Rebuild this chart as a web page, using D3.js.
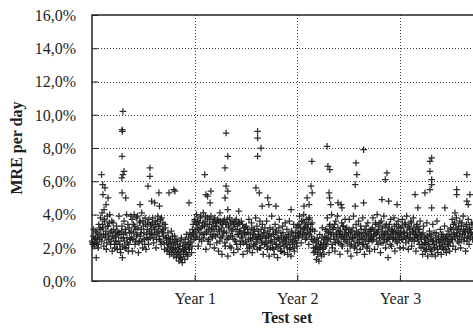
<!DOCTYPE html>
<html>
<head>
<meta charset="utf-8">
<script src="https://cdn.jsdelivr.net/npm/d3@7"></script>
<style>
  html, body { margin: 0; padding: 0; background: #fff; }
  svg { display: block; }
  svg text { font-family: "Liberation Serif", "Tinos", "Times New Roman", Times, "DejaVu Serif", serif !important; fill: #1e1e1e; }
</style>
</head>
<body>
<svg id="chart" width="473" height="331"></svg>
<script>
// ---------- data (MRE per day, %) ----------
const dayStep = 3;
// first sample set: days 0, 3, 6, ...
const bandYear1 = [
  2.4, 2.2, 3.1, 2.3, 2.6, 1.4, 2.9, 2.2, 3.4, 2.5,
  3.8, 2.7, 4.1, 3.2, 2.1, 3.6, 2.8, 1.9, 3.9, 3.3, 2.5, 4.0, 2.2, 3.0, 1.8, 3.5, 2.6, 2.0,
  2.4, 3.3, 1.9, 2.8, 3.9, 2.2, 1.7, 3.0, 1.4, 2.6, 3.6, 2.0, 2.9, 4.0, 2.3, 1.8, 3.2, 2.5,
  3.9, 2.6, 1.8, 3.4, 4.0, 2.2, 3.1, 2.7, 3.9, 1.7, 2.4, 3.6, 2.9, 4.1, 2.0, 3.3, 2.5, 3.8, 1.9, 2.8, 3.5, 2.2, 3.0, 2.6,
  3.4, 2.8, 3.8, 2.3, 3.1, 3.6, 2.0, 2.9, 3.9, 3.3, 2.5, 3.7, 2.2, 3.0, 3.5, 2.7, 1.9, 3.2,
  2.6, 1.8, 2.9, 2.2, 1.6, 2.5, 3.0, 1.9, 2.3, 1.5, 2.7, 2.0, 1.4, 2.4, 1.7, 1.2, 2.1, 1.4, 2.6, 1.1,
  1.8, 2.3, 1.3, 2.0, 2.8, 1.6, 2.2, 1.9, 2.9, 2.4, 1.7, 3.1,
  3.4, 2.5
];
const bandYear2 = [
  3.7, 2.6, 4.0, 3.2, 2.1, 3.5, 2.9, 3.9, 2.4, 3.3, 4.1, 2.8, 3.6, 1.9, 3.0, 3.8, 2.5, 3.4, 2.2, 3.9, 3.1, 2.7, 3.6, 2.0, 3.3,
  3.5, 2.3, 3.7, 1.8, 3.0, 3.6, 2.6, 1.6, 3.4, 2.9, 3.7, 2.1, 3.5, 2.5, 1.5, 3.3, 3.8, 2.7, 2.0, 3.6,
  3.1, 1.7, 3.4, 2.4, 3.7, 2.8, 1.9, 3.5, 3.0, 2.2, 3.6, 2.6, 1.6, 3.2, 2.9,
  2.4, 3.3, 1.8, 2.9, 3.7, 2.1, 2.6, 3.5, 1.7, 2.8, 3.1, 2.2, 3.8, 2.5, 1.9, 3.0, 2.7, 3.6, 2.0, 2.4, 3.4, 1.6, 2.9, 3.2,
  2.3, 3.6, 1.9, 2.7, 1.5, 3.2, 2.4, 3.9, 2.0, 2.8, 1.6, 3.4, 2.2, 3.0, 1.4, 2.6, 3.7, 2.1, 2.9, 1.8, 3.3, 2.5, 1.7, 3.5,
  2.2, 3.1, 1.6, 2.7, 3.6, 2.0, 1.5, 2.9, 2.4, 3.4, 1.8, 2.6, 3.2, 2.1
];
const bandYear3 = [
  3.3, 2.6, 3.9, 3.0, 2.3, 3.6, 2.8, 4.0, 3.2, 2.5, 3.7, 2.9, 3.4, 2.2, 3.8, 3.1, 2.7, 3.5,
  2.4, 1.7, 3.0, 2.0, 1.3, 2.6, 1.9, 1.2, 2.8, 2.2, 1.5, 3.2, 2.0, 1.6, 2.7,
  3.1, 2.2, 3.8, 2.6, 1.7, 3.4, 2.9, 4.0, 2.0, 3.2, 2.5, 1.8, 3.6, 2.8, 3.9, 2.3, 3.0, 1.6, 2.7, 3.5, 2.1, 3.3, 2.6, 3.7,
  2.4, 3.2, 1.8, 2.9, 3.7, 2.1, 1.5, 3.0, 2.6, 3.9, 2.0, 2.7, 3.4, 1.7, 2.3, 3.6, 2.8, 1.9, 3.1, 2.5,
  3.8, 2.2, 1.6, 2.9, 3.3, 2.0, 3.5, 2.4, 1.8, 3.0,
  3.1, 2.4, 3.8, 2.7, 1.9, 3.5, 2.9, 4.0, 2.2, 3.3, 2.6, 1.7, 3.6, 3.0, 2.3, 3.9, 2.8, 2.0, 3.4, 2.5,
  1.4, 3.2, 2.7, 3.7, 2.1, 3.0, 2.6, 3.8, 1.8, 2.9, 3.4, 2.3, 3.6, 2.8, 2.0
];
const bandYear4 = [
  3.2, 2.5, 3.7, 2.0, 2.9, 3.5, 2.3, 3.9, 2.7, 1.9, 3.3, 2.6, 3.6, 2.1, 3.0, 3.8, 2.4, 2.8, 1.8, 3.4, 2.6, 3.1, 2.2, 3.6,
  2.0, 2.8, 1.6, 3.3, 2.3, 1.8, 2.6, 3.5, 1.5, 2.2, 3.0, 1.9, 2.7, 1.6, 3.4, 2.4, 2.0, 1.5, 2.9, 3.6,
  1.7, 2.5, 2.1, 3.1, 1.6, 2.3, 2.8, 1.9, 3.3, 2.6, 1.7, 2.2, 3.0, 2.4, 1.8,
  3.2, 2.5, 3.7, 2.1, 2.9, 3.5, 1.9, 3.8, 2.7, 3.1, 2.3, 3.6, 2.0, 3.3, 2.8, 3.9, 2.4, 3.0, 1.8, 3.4,
  2.6, 3.7, 2.2, 3.1, 2.9, 3.5, 2.5
];
// second sample set: days 1.5, 4.5, 7.5, ...
const bandYear1b = [
  2.3, 2.7, 2.1, 2.5, 3.0, 2.3, 2.6, 2.0, 2.8, 3.2,
  3.1, 2.4, 3.4, 2.8, 3.7, 2.6, 3.0, 2.3, 3.3, 2.7, 3.5, 2.9, 2.4, 3.6, 2.7, 3.1, 2.2, 2.9,
  2.7, 2.2, 3.0, 2.4, 2.9, 1.9, 2.6, 3.3, 2.1, 2.8, 2.4, 3.1, 2.0, 2.6, 3.4, 2.2, 2.9, 2.5,
  3.0, 3.7, 2.5, 2.9, 3.3, 2.4, 3.8, 2.8, 3.2, 2.3, 3.5, 2.7, 3.1, 2.4, 3.6, 2.9, 2.2, 3.4, 2.6, 3.1, 2.5, 3.7, 2.8, 3.3,
  2.9, 3.5, 2.6, 3.2, 2.8, 3.4, 2.5, 3.6, 3.0, 2.7, 3.3, 2.4, 3.8, 2.9, 3.1, 2.3, 3.4, 2.6,
  2.3, 2.0, 2.6, 1.8, 2.4, 2.1, 1.7, 2.7, 2.0, 2.3, 1.8, 2.5, 1.6, 2.2, 1.9, 1.5, 2.4, 1.8, 1.3, 2.1,
  1.6, 1.9, 2.5, 1.7, 2.2, 1.5, 2.6, 2.0, 2.3, 2.7, 2.1, 2.8,
  2.9, 3.6
];
const bandYear2b = [
  3.0, 3.4, 2.7, 3.6, 3.1, 2.5, 3.8, 3.2, 2.8, 3.5, 2.6, 3.3, 3.9, 2.9, 3.4, 2.4, 3.1, 3.7, 2.8, 3.2, 2.6, 3.5, 3.0, 3.8, 2.7,
  3.3, 2.8, 3.6, 3.1, 2.4, 3.5, 3.2, 2.7, 3.6, 3.0, 2.3, 3.4, 2.9, 3.7, 2.6, 3.2, 2.1, 3.5, 3.0, 2.7,
  3.4, 2.5, 3.6, 3.1, 2.2, 3.3, 2.8, 3.5, 2.4, 3.0, 2.7, 3.4, 2.3, 2.9, 3.2,
  2.8, 2.2, 3.1, 2.5, 2.0, 2.9, 2.4, 3.2, 2.6, 2.1, 3.0, 2.7, 2.3, 3.3, 2.5, 2.8, 2.0, 2.6, 3.1, 2.3, 2.7, 2.9, 2.2, 2.6,
  2.6, 2.1, 3.0, 2.4, 2.8, 2.0, 2.7, 2.3, 3.1, 1.9, 2.5, 2.9, 2.2, 2.6, 2.0, 3.2, 2.4, 1.8, 2.7, 2.3, 2.9, 2.1, 2.6, 2.4,
  2.6, 2.0, 2.8, 2.3, 1.9, 2.5, 3.0, 2.2, 2.7, 2.0, 2.4, 2.9, 2.3, 2.7
];
const bandYear3b = [
  2.9, 3.4, 2.8, 3.2, 3.6, 2.7, 3.1, 3.5, 2.9, 3.3, 2.6, 3.2, 3.7, 2.8, 3.0, 3.4, 2.5, 3.1,
  2.0, 2.5, 1.8, 2.3, 2.1, 1.6, 2.4, 2.0, 1.7, 2.2, 2.6, 1.9, 2.3, 2.5, 2.1,
  2.6, 3.0, 2.4, 2.9, 3.3, 2.5, 2.8, 2.2, 3.1, 2.7, 3.4, 2.3, 2.9, 2.6, 3.2, 2.4, 2.8, 3.0, 2.2, 2.7, 3.3, 2.5, 2.9, 3.1,
  2.8, 2.3, 2.7, 3.1, 2.5, 2.9, 2.2, 2.6, 3.2, 2.4, 2.8, 2.1, 3.0, 2.6, 2.9, 2.3, 2.5, 3.3, 2.7, 2.2,
  2.9, 2.6, 3.1, 2.4, 2.7, 2.1, 2.8, 3.0, 2.5, 2.6,
  2.7, 3.2, 2.5, 3.0, 2.8, 3.4, 2.4, 2.9, 3.1, 2.6, 3.5, 2.3, 2.8, 3.2, 2.7, 2.5, 3.3, 2.9, 2.4, 3.0,
  2.6, 3.4, 2.2, 2.8, 3.1, 2.5, 2.9, 3.3, 2.6, 2.4, 3.0, 2.7, 3.2, 2.5, 2.9
];
const bandYear4b = [
  2.8, 3.3, 2.5, 3.0, 2.7, 3.4, 2.6, 2.9, 3.2, 2.4, 3.1, 2.8, 3.5, 2.5, 2.9, 3.2, 2.6, 3.0, 2.7, 3.3, 2.4, 2.9, 3.1, 2.7,
  2.5, 2.2, 2.9, 2.0, 2.6, 2.3, 1.9, 2.7, 2.4, 2.1, 2.8, 2.5, 1.8, 2.4, 2.2, 2.9, 2.0, 2.6, 2.3, 1.9,
  2.7, 2.4, 2.1, 2.5, 2.8, 2.0, 2.6, 2.2, 2.4, 1.9, 2.7, 2.5, 2.1, 2.8, 2.3,
  2.7, 3.1, 2.5, 3.4, 2.8, 2.6, 3.2, 2.9, 2.4, 3.3, 2.7, 3.0, 2.5, 3.5, 2.8, 3.1, 2.6, 2.9, 3.3, 2.4,
  3.0, 2.7, 3.2, 2.6, 2.9, 3.4, 2.8
];
// high-error days (day index, MRE %)
const outlierDays = [
  34, 38, 46, 39, 57, 50, 43, 110, 107, 108, 107, 114, 110, 106, 107, 120,
  206, 206, 199, 212, 171, 238, 274, 291, 295, 223, 240, 345,
  401, 405, 411, 420, 423, 477, 483, 473, 477, 483, 473, 455, 483, 522,
  589, 589, 601, 589, 583, 595, 625, 605, 629, 654,
  782, 836, 839, 846, 779, 783, 765, 772, 754, 843, 845, 849, 708, 886, 875, 889,
  966, 939, 942, 936, 1049, 1043, 966, 936, 1031, 1055, 1085,
  1208, 1202, 1202, 1208, 1208, 1202, 1149, 1184, 1297, 1297, 1333, 1344, 1333, 1338, 1208, 1159, 1255, 1291
];
const outlierValues = [
  6.4, 5.8, 5.6, 5.2, 5.0, 4.6, 4.3, 10.2, 9.1, 9.0, 7.5, 6.6, 6.4, 6.2, 5.3, 5.0,
  6.8, 6.3, 5.7, 4.8, 4.6, 5.3, 5.3, 5.5, 5.4, 4.7, 4.5, 4.7,
  6.4, 5.2, 5.1, 4.7, 5.4, 8.9, 7.5, 6.8, 5.7, 5.4, 5.0, 4.1, 4.3, 4.2,
  9.0, 8.6, 8.0, 7.5, 5.6, 5.3, 5.0, 4.5, 4.6, 4.5,
  7.2, 8.1, 6.9, 6.7, 5.7, 5.3, 5.0, 4.6, 4.5, 5.3, 5.0, 4.6, 4.3, 4.6, 4.7, 4.4,
  7.9, 7.1, 6.4, 5.8, 6.5, 6.1, 4.7, 4.5, 4.9, 4.8, 4.6,
  7.4, 7.2, 6.6, 6.1, 5.8, 5.5, 5.2, 5.3, 5.5, 5.2, 6.4, 5.2, 4.8, 4.6, 4.4, 4.4, 4.4, 4.1
];
const yTicks = [0, 2, 4, 6, 8, 10, 12, 14, 16];
const xTickDays = [365, 730, 1095];
const xTickLabels = ["Year 1", "Year 2", "Year 3"];
const xLabel = "Test set";
const yLabel = "MRE per day";

// ---------- build points ----------
const bandA = [].concat(bandYear1, bandYear2, bandYear3, bandYear4);
const bandB = [].concat(bandYear1b, bandYear2b, bandYear3b, bandYear4b);
const points = bandA.map((v, i) => ({ day: i * dayStep, v }))
  .concat(bandB.map((v, i) => ({ day: i * dayStep + dayStep / 2, v })))
  .concat(outlierDays.map((d, i) => ({ day: d, v: outlierValues[i] })));

// ---------- layout ----------
const pLeft = 92, pRight = 473, pTop = 15, pBottom = 281;
const x = d3.scaleLinear().domain([0, 1355]).range([pLeft, pRight]);
const y = d3.scaleLinear().domain([0, 16]).range([pBottom, pTop]);
const svg = d3.select("#chart");
const fmt = d3.formatLocale({ decimal: ",", thousands: ".", grouping: [3], currency: ["", ""] }).format(".1f");
const serif = '"Liberation Serif", "Tinos", "Times New Roman", Times, "DejaVu Serif", serif';

// grid (dotted)
svg.append("g").selectAll("line").data(yTicks.filter(t => t > 0 && t < 16)).join("line")
  .attr("x1", pLeft).attr("x2", pRight)
  .attr("y1", d => Math.round(y(d)) + 0.5).attr("y2", d => Math.round(y(d)) + 0.5)
  .attr("stroke", "#444").attr("stroke-width", 1).attr("stroke-dasharray", "1,2");
svg.append("g").selectAll("line").data(xTickDays).join("line")
  .attr("x1", d => Math.round(x(d)) + 0.5).attr("x2", d => Math.round(x(d)) + 0.5)
  .attr("y1", pTop).attr("y2", pBottom)
  .attr("stroke", "#444").attr("stroke-width", 1).attr("stroke-dasharray", "1,2");

// points
svg.append("g").selectAll("path").data(points).join("path")
  .attr("transform", d => `translate(${x(d.day)},${y(d.v)})`)
  .attr("d", "M-3.3,0H3.3M0,-3.3V3.3")
  .attr("stroke", "#1c1c1c").attr("stroke-width", 1.25).attr("stroke-opacity", 0.92)
  .attr("fill", "none");

// axes
const yAxis = d3.axisLeft(y).tickValues(yTicks).tickSizeInner(-6).tickSizeOuter(0)
  .tickPadding(16).tickFormat(d => fmt(d) + "%");
const gy = svg.append("g").attr("transform", `translate(${pLeft},0)`).call(yAxis);
gy.attr("font-family", null);
gy.select(".domain").remove();
gy.selectAll(".tick line").attr("stroke", "#222").attr("stroke-width", 1);
gy.selectAll(".tick text").attr("font-size", 16).style("font-family", serif).attr("dy", "0.34em");

const xAxis = d3.axisBottom(x).tickValues(xTickDays).tickSizeInner(-6).tickSizeOuter(0)
  .tickPadding(12).tickFormat((d, i) => xTickLabels[i]);
const gx = svg.append("g").attr("transform", `translate(0,${pBottom})`).call(xAxis);
gx.attr("font-family", null);
gx.select(".domain").remove();
gx.selectAll(".tick line").attr("stroke", "#222").attr("stroke-width", 1);
gx.selectAll(".tick text").attr("font-size", 16).style("font-family", serif);

// frame
svg.append("path")
  .attr("d", `M${pRight},${pTop}H${pLeft}V${pBottom}H${pRight}`)
  .attr("fill", "none").attr("stroke", "#222").attr("stroke-width", 1.5);

// axis titles
svg.append("text").attr("x", 287).attr("y", 323).attr("text-anchor", "middle")
  .attr("font-size", 16).attr("font-weight", "bold").style("font-family", serif).text(xLabel);
svg.append("text").attr("transform", `translate(22,148) rotate(-90)`).attr("text-anchor", "middle")
  .attr("font-size", 16).attr("font-weight", "bold").style("font-family", serif).text(yLabel);
</script>
</body>
</html>
